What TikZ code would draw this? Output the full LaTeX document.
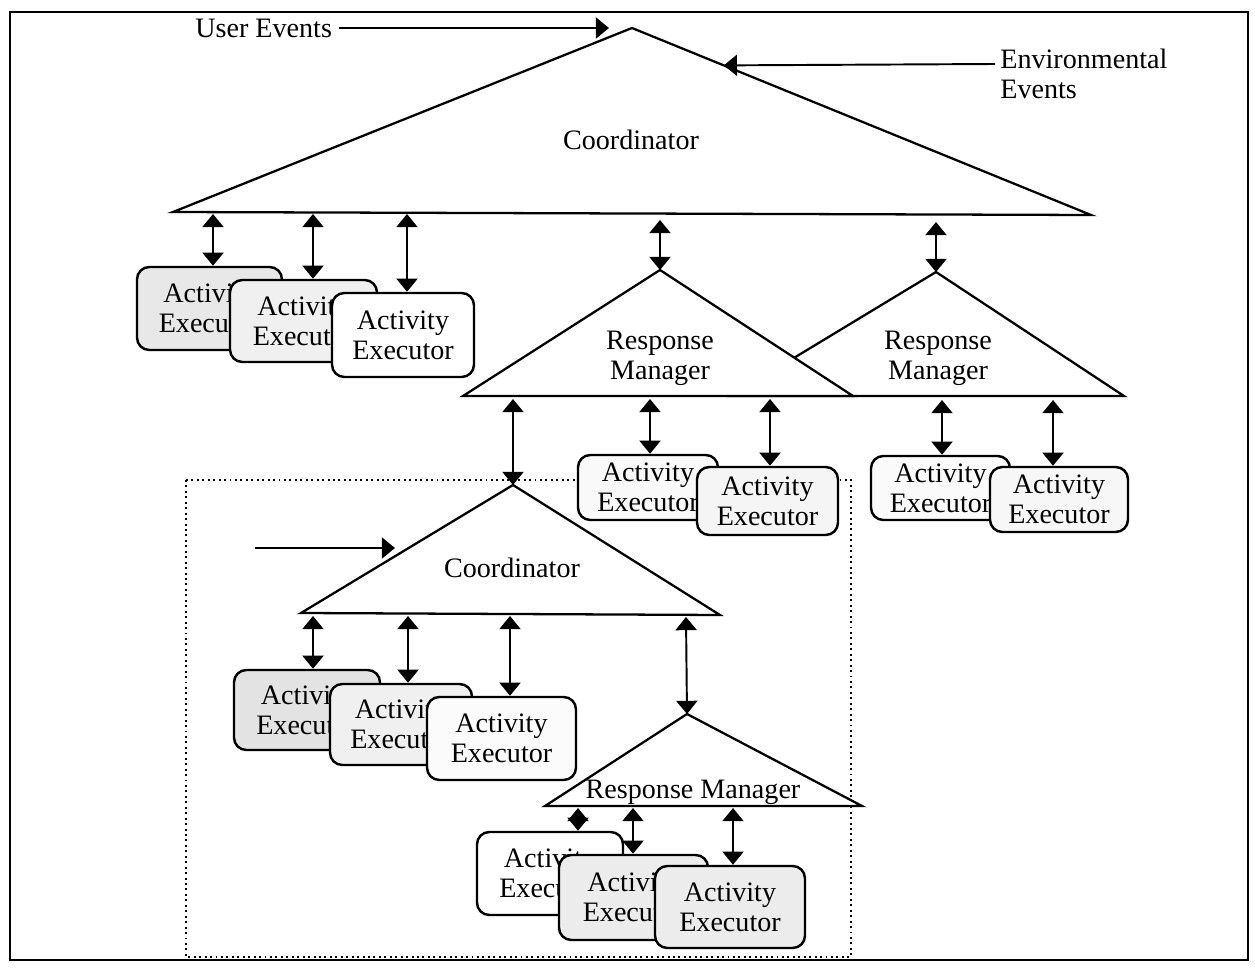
\documentclass[tikz,border=0pt]{standalone}
\usepackage{fontspec}
\setmainfont{Liberation Serif}
\usetikzlibrary{arrows.meta,calc}
\begin{document}
\begin{tikzpicture}[x=0.02cm,y=-0.02cm,
  tri/.style={draw, line width=1.3pt, fill=white, line join=miter},
  aebox/.style={draw, line width=1.4pt, rounded corners=7pt, align=center, inner sep=0pt, font=\fontsize{16}{17}\selectfont},
  sz/.style 2 args={minimum width=#1*0.02cm, minimum height=#2*0.02cm},
  dbl/.style={{Triangle[length=7.5pt,width=12pt]}-{Triangle[length=7.5pt,width=12pt]}, line width=1.1pt},
  arr/.style={-{Triangle[length=7.5pt,width=12pt]}, line width=1.1pt},
  lbl/.style={font=\fontsize{16}{17}\selectfont, align=center, inner sep=0pt}]

\useasboundingbox (0,0) rectangle (1255,969);
\fill[white] (0,0) rectangle (1255,969);
\draw[line width=1.2pt] (10,12) rectangle (1248,960);
\draw[dotted, line width=1.1pt] (186,480) rectangle (851,957);

% main coordinator
\coordinate (c0t) at (632,28);
\coordinate (c0l) at (173,212);
\coordinate (c0r) at (1091,215);
\draw[tri] (c0l) -- (c0t) -- (c0r) -- cycle;
\node[lbl] (c0) at (631,140) {Coordinator};

% user / environmental events
\node[lbl, anchor=west] (ue) at (195,28) {User Events};
\coordinate (uet) at (609,28);
\draw[arr] ([xshift=4pt]ue.east) -- (uet);
\node[lbl, anchor=west, align=left] (env) at (1000,74) {Environmental\\Events};
\coordinate (envs) at (995,64);
\coordinate (envt) at ($(c0t)!0.2!(c0r)$);
\draw[arr] (envs) -- (envt);

% response managers
\coordinate (r2t) at (936,272);
\coordinate (r2l) at (731,396);
\coordinate (r2r) at (1124,396);
\draw[tri] (r2l) -- (r2t) -- (r2r) -- cycle;
\coordinate (r1t) at (660,270);
\coordinate (r1l) at (463,396);
\coordinate (r1r) at (853,396);
\draw[tri] (r1l) -- (r1t) -- (r1r) -- cycle;
\node[lbl] (r1) at (660,358) {Response\\Manager};
\node[lbl] (r2) at (938,358) {Response\\Manager};

% inner coordinator
\coordinate (c1t) at (513,485);
\coordinate (c1l) at (301,613);
\coordinate (c1r) at (720,615);
\draw[tri] (c1l) -- (c1t) -- (c1r) -- cycle;
\node[lbl] (c1) at (512,568) {Coordinator};
\coordinate (ia1) at (255,548);
\coordinate (ia2) at (395,548);
\draw[arr] (ia1) -- (ia2);

% inner response manager
\coordinate (r3t) at (687,714);
\coordinate (r3l) at (545,806);
\coordinate (r3r) at (862,806);
\draw[tri] (r3l) -- (r3t) -- (r3r) -- cycle;
\node[lbl] (r3) at (693,792) {Response Manager};

% activity executors: top left
\node[aebox, sz={145}{83}, fill=gray!18] (ae1) at (209.5,308.5) {Activity\\Executor};
\node[aebox, sz={147}{82}, fill=gray!12] (ae2) at (303.5,321) {Activity\\Executor};
\node[aebox, sz={142}{84}, fill=white] (ae3) at (403,335) {Activity\\Executor};
% under response managers
\node[aebox, sz={140}{65}, fill=gray!5] (ae4) at (648,487.5) {Activity\\Executor};
\node[aebox, sz={141}{68}, fill=gray!8] (ae5) at (767.5,501) {Activity\\Executor};
\node[aebox, sz={139}{64}, fill=gray!4] (ae6) at (940.5,488) {Activity\\Executor};
\node[aebox, sz={138}{65}, fill=gray!6] (ae7) at (1059,499.5) {Activity\\Executor};
% inner coordinator
\node[aebox, sz={146}{80}, fill=gray!22] (ae8) at (307,710) {Activity\\Executor};
\node[aebox, sz={142}{81}, fill=gray!12] (ae9) at (401,724.5) {Activity\\Executor};
\node[aebox, sz={149}{83}, fill=gray!3] (ae10) at (501.5,738.5) {Activity\\Executor};
% inner response manager
\node[aebox, sz={146}{83}, fill=white] (ae11) at (550,873.5) {Activity\\Executor};
\node[aebox, sz={149}{85}, fill=gray!15] (ae12) at (633.5,897.5) {Activity\\Executor};
\node[aebox, sz={150}{82}, fill=gray!15] (ae13) at (730,907) {Activity\\Executor};

% connectors from main coordinator
\coordinate (c0b1) at (213,214);
\coordinate (c0b2) at (313,214);
\coordinate (c0b3) at (407,214);
\coordinate (c0b4) at (660,220);
\coordinate (c0b5) at (936,222);
\draw[dbl] (c0b1) -- (c0b1 |- ae1.north);
\draw[dbl] (c0b2) -- (c0b2 |- ae2.north);
\draw[dbl] (c0b3) -- (c0b3 |- ae3.north);
\draw[dbl] (c0b4) -- (r1t);
\draw[dbl] (c0b5) -- (r2t);

% connectors from response managers
\coordinate (r1b1) at (513,399);
\coordinate (r1b2) at (650,399);
\coordinate (r1b3) at (770,399);
\coordinate (r2b1) at (942,400);
\coordinate (r2b2) at (1053,400);
\draw[dbl] (r1b1) -- (c1t);
\draw[dbl] (r1b2) -- (r1b2 |- ae4.north);
\draw[dbl] (r1b3) -- (r1b3 |- ae5.north);
\draw[dbl] (r2b1) -- (r2b1 |- ae6.north);
\draw[dbl] (r2b2) -- (r2b2 |- ae7.north);

% connectors from inner coordinator
\coordinate (c1b1) at (313,616);
\coordinate (c1b2) at (408,616);
\coordinate (c1b3) at (510,616);
\coordinate (c1b4) at (686,617);
\draw[dbl] (c1b1) -- (c1b1 |- ae8.north);
\draw[dbl] (c1b2) -- (c1b2 |- ae9.north);
\draw[dbl] (c1b3) -- (c1b3 |- ae10.north);
\draw[dbl] (c1b4) -- (r3t);

% connectors from inner response manager
\coordinate (r3b1) at (578,808);
\coordinate (r3b2) at (633,808);
\coordinate (r3b3) at (733,808);
\draw[dbl] (r3b1) -- (r3b1 |- ae11.north);
\draw[dbl] (r3b2) -- (r3b2 |- ae12.north);
\draw[dbl] (r3b3) -- (r3b3 |- ae13.north);
\end{tikzpicture}
\end{document}
